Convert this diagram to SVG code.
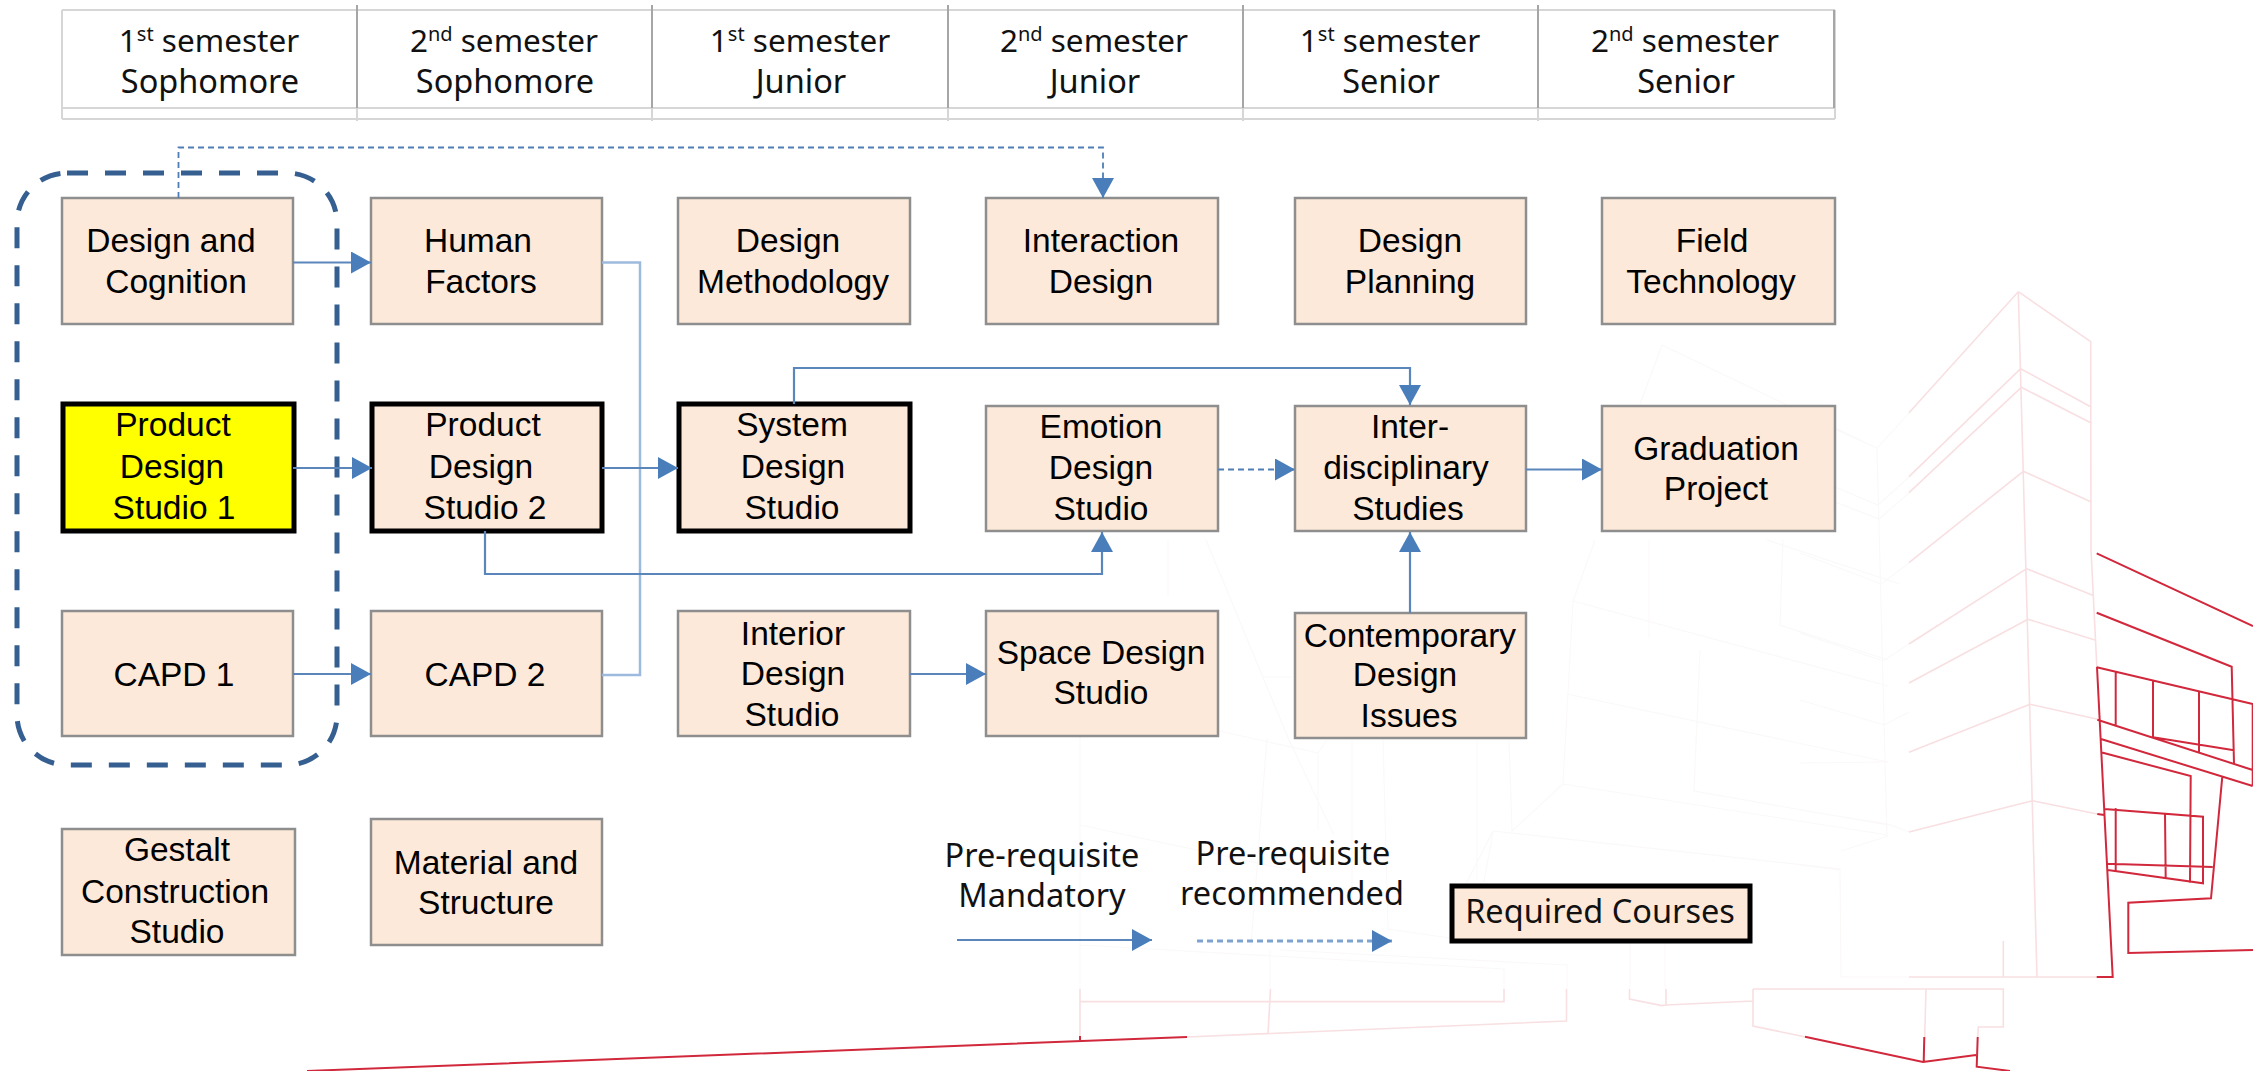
<svg xmlns="http://www.w3.org/2000/svg" width="2253" height="1071" viewBox="0 0 2253 1071">
<style>
.p{fill:none;stroke:#f8dfe2;stroke-width:1.6}
.f{fill:none;stroke:#fbf8f8;stroke-width:1.1}
.r{fill:none;stroke:#d1283c;stroke-width:2}
.h{stroke:#d6d6d6;stroke-width:2;fill:none}
.hv{stroke:#a6a6a6;stroke-width:2;fill:none}
.b{fill:#fde9d9;stroke:#8e8e8e;stroke-width:2.5}
.k{fill:#fde9d9;stroke:#000;stroke-width:5}
.y{fill:#ffff00;stroke:#000;stroke-width:5}
text{font-family:"Liberation Sans",Arial,sans-serif;font-size:33.5px;text-anchor:middle;fill:#000}
.m{font-family:"Noto Sans","Open Sans",sans-serif;font-size:32.5px;fill:#111}
.s{font-size:31.5px}
.c{fill:none;stroke:#5a86bb;stroke-width:2.2}
.l{fill:none;stroke:#9dbade;stroke-width:2.5}
.d{fill:none;stroke:#4f7eb6;stroke-width:1.8;stroke-dasharray:6 4}
.g{fill:none;stroke:#7fa3d0;stroke-width:3;stroke-dasharray:6 4}
</style>
<defs>
<marker id="a" markerUnits="userSpaceOnUse" markerWidth="21" markerHeight="22" refX="20" refY="11" orient="auto"><path d="M0 0L20 11L0 22Z" fill="#4a7ebb"/></marker>
</defs>
<g id="building">
<path class="f" d="M1662 345L1877 448L1887 837M1662 345L1640 404M1837 430L1877 448L1909 413M1835 487L1878 505L1909 477M1835 502L1879 519L1909 493M1800 553L1881 584L1909 563M1800 633L1883 661L1909 644M1800 700L1884 725L1909 712M1800 763L1887 762M1800 810L1888 824L1909 832M1800 865L1840 870L1841 977M1493 831L1841 869M1841 851L1888 836M1493 831L1484 882M1493 831L1465 886M1563 784L1573 601L1595 540M1563 784L1512 831L1509 740M1563 784L1888 835M1573 601L1888 686M1567 694L1888 762M1700 650L1694 791L1888 825M1649 540L1649 638M1783 540L1780 625L1888 660M1767 540L1900 584M1168 540L1168 597M1206 540L1289 740L1334 835M1264 677L1292 677M1219 731L1318 753L1327 740M1318 753L1318 830M1267 738L1251 946M1352 740L1352 900M1383 740L1388 929L1450 938M1477 740L1477 880M1080 736L1080 989M1080 825L1290 870M1080 945L1504 969L1504 989M1270 950L1270 989M1280 950L1567 965L1567 989M1630 943L1630 989M1665 943L1665 989M1841 977L1909 977M1800 989L1900 989"/>
<path class="p" d="M2018.300 291.700L1909 412.700M2018.300 291.700L2090.700 341.700L2091 550L2097 670M2018.300 291.700L2037 976.700M2020.700 368.700L1909 476.700M2020.700 368.700L2090.700 406.700M2021.300 387.300L1909 492.700M2021.300 387.300L2090.700 422.700M2023.300 471.300L1909 562.700M2023.300 471.300L2090.700 501.700M2026.700 568.700L1909 644M2026.700 568.700L2092.700 595.300M2028 619.300L1909 683M2028 619.300L2095 640M2030 704.300L1909 752.300M2030 704.300L2097.700 719.300M2032.300 800.700L1909 832M2032.300 800.700L2097.300 814M1909 977L2097 977M2003.300 941L2003.300 977M1753 989L2003.300 989L2003.300 1027L1978.300 1027L1977.700 1037M1926 989L1924.700 1037M1080 989L1080 1039.500M1080 1001.600L1504 1001.600L1504 989M1270.500 989L1268 1034M1566.500 989L1566.500 1021L1187 1037M1629.500 989L1629.500 999L1662 1005.600L1666 1005L1666 989M1666 1005L1753 1001M1753 989L1753 1026L1805.600 1037"/>
<path class="r" d="M2096.700 553.300L2253 626M2096.700 612.700L2231.700 666.700L2234 764M2096.700 667.300L2252.700 704L2252.700 786M2097 667L2112.700 977L2096.700 977M2097.300 719.700L2252.700 770M2101 739L2252.700 786M2101 752.300L2190.700 776L2190 882.700M2115.700 671.700L2115.700 725M2153 680.700L2153 737.300M2199 691.700L2199 752.300M2153 737.300L2234 750.300M2104.300 809L2203 816.700L2203 883.300L2107.700 870M2107.300 863.700L2212.700 867M2115.700 808.300L2115.700 870.700M2165 814L2165.700 878.300M2222.300 776.700L2211 898.300L2128.300 902.700L2128.300 953L2253 950M2097.300 814L2104.300 815M1187 1037L307 1071M1080 1036L1080 1040M1805 1036.700L1923 1062L1976 1055M1924.300 1037L1923.700 1062M1977.700 1037L1976.700 1066.700L2010 1071"/>
</g>
<g id="header">
<path class="h" d="M62 10H1835M62 108H1835M62 119H1835M62 10V119M1835 10V119"/>
<path class="hv" d="M357 5V108M652 5V108M948 5V108M1243 5V108M1538 5V108M1834 10V108"/>
<path class="h" d="M357 108V121M652 108V121M948 108V121M1243 108V121M1538 108V121"/>
<text class="m s" x="209" y="52">1<tspan font-size="20" dy="-11">st</tspan><tspan dy="11"> semester</tspan></text><text class="m" x="210" y="93">Sophomore</text>
<text class="m s" x="504" y="52">2<tspan font-size="20" dy="-11">nd</tspan><tspan dy="11"> semester</tspan></text><text class="m" x="505" y="93">Sophomore</text>
<text class="m s" x="800" y="52">1<tspan font-size="20" dy="-11">st</tspan><tspan dy="11"> semester</tspan></text><text class="m" x="801" y="93">Junior</text>
<text class="m s" x="1094" y="52">2<tspan font-size="20" dy="-11">nd</tspan><tspan dy="11"> semester</tspan></text><text class="m" x="1095" y="93">Junior</text>
<text class="m s" x="1390" y="52">1<tspan font-size="20" dy="-11">st</tspan><tspan dy="11"> semester</tspan></text><text class="m" x="1391" y="93">Senior</text>
<text class="m s" x="1685" y="52">2<tspan font-size="20" dy="-11">nd</tspan><tspan dy="11"> semester</tspan></text><text class="m" x="1686" y="93">Senior</text>
</g>
<g id="n-design-cognition"><rect class="b" x="62" y="198" width="231" height="126"/><text x="171" y="252">Design and</text><text x="176" y="293">Cognition</text></g>
<g id="n-human-factors"><rect class="b" x="371" y="198" width="231" height="126"/><text x="478" y="252">Human</text><text x="481" y="293">Factors</text></g>
<g id="n-design-methodology"><rect class="b" x="678" y="198" width="232" height="126"/><text x="788" y="252">Design</text><text x="793" y="293">Methodology</text></g>
<g id="n-interaction-design"><rect class="b" x="986" y="198" width="232" height="126"/><text x="1101" y="252">Interaction</text><text x="1101" y="293">Design</text></g>
<g id="n-design-planning"><rect class="b" x="1295" y="198" width="231" height="126"/><text x="1410" y="252">Design</text><text x="1410" y="293">Planning</text></g>
<g id="n-field-technology"><rect class="b" x="1602" y="198" width="233" height="126"/><text x="1712" y="252">Field</text><text x="1711" y="293">Technology</text></g>
<g id="n-pds1"><rect class="y" x="63" y="404" width="231" height="127"/><text x="173" y="436">Product</text><text x="172" y="478">Design</text><text x="174" y="519">Studio 1</text></g>
<g id="n-pds2"><rect class="k" x="372" y="404" width="230" height="127"/><text x="483" y="436">Product</text><text x="481" y="478">Design</text><text x="485" y="519">Studio 2</text></g>
<g id="n-system-design"><rect class="k" x="679" y="404" width="231" height="127"/><text x="792" y="436">System</text><text x="793" y="478">Design</text><text x="792" y="519">Studio</text></g>
<g id="n-emotion-design"><rect class="b" x="986" y="406" width="232" height="125"/><text x="1101" y="438">Emotion</text><text x="1101" y="479">Design</text><text x="1101" y="520">Studio</text></g>
<g id="n-interdisciplinary"><rect class="b" x="1295" y="406" width="231" height="125"/><text x="1410" y="438">Inter-</text><text x="1406" y="479">disciplinary</text><text x="1408" y="520">Studies</text></g>
<g id="n-graduation"><rect class="b" x="1602" y="406" width="233" height="125"/><text x="1716" y="460">Graduation</text><text x="1716" y="500">Project</text></g>
<g id="n-capd1"><rect class="b" x="62" y="611" width="231" height="125"/><text x="174" y="686">CAPD 1</text></g>
<g id="n-capd2"><rect class="b" x="371" y="611" width="231" height="125"/><text x="485" y="686">CAPD 2</text></g>
<g id="n-interior-design"><rect class="b" x="678" y="611" width="232" height="125"/><text x="793" y="645">Interior</text><text x="793" y="685">Design</text><text x="792" y="726">Studio</text></g>
<g id="n-space-design"><rect class="b" x="986" y="611" width="232" height="125"/><text x="1101" y="664">Space Design</text><text x="1101" y="704">Studio</text></g>
<g id="n-contemporary"><rect class="b" x="1295" y="613" width="231" height="125"/><text x="1410" y="647">Contemporary</text><text x="1405" y="686">Design</text><text x="1409" y="727">Issues</text></g>
<g id="n-gestalt"><rect class="b" x="62" y="829" width="233" height="126"/><text x="177" y="861">Gestalt</text><text x="175" y="903">Construction</text><text x="177" y="943">Studio</text></g>
<g id="n-material"><rect class="b" x="371" y="819" width="231" height="126"/><text x="486" y="874">Material and</text><text x="486" y="914">Structure</text></g>
<g id="connectors">
<rect x="17" y="173" width="320" height="592" rx="50" fill="none" stroke="#365f91" stroke-width="5" stroke-dasharray="21 17"/>
<path class="d" d="M178.500 198V147.500H1103V198" marker-end="url(#a)"/>
<path class="c" d="M293 262.500H371" marker-end="url(#a)"/>
<path class="l" d="M602 262.500H640V675H602"/>
<path class="c" d="M293 468H372" marker-end="url(#a)"/>
<path class="c" d="M602 468H678" marker-end="url(#a)"/>
<path class="c" d="M794 404V368H1410V405" marker-end="url(#a)"/>
<path class="c" d="M485 531V574H1102V532" marker-end="url(#a)"/>
<path class="d" d="M1218 469.500H1295" marker-end="url(#a)"/>
<path class="c" d="M1526 469.500H1602" marker-end="url(#a)"/>
<path class="c" d="M293 674H371" marker-end="url(#a)"/>
<path class="c" d="M910 674H986" marker-end="url(#a)"/>
<path class="c" d="M1410 613V532" marker-end="url(#a)"/>
</g>
<g id="legend">
<text class="m" x="1042" y="867">Pre-requisite</text><text class="m" x="1042" y="907">Mandatory</text>
<text class="m" x="1293" y="865">Pre-requisite</text><text class="m" x="1292" y="905">recommended</text>
<path class="c" d="M957 940H1152" marker-end="url(#a)"/>
<path class="g" d="M1197 941H1392" marker-end="url(#a)"/>
<rect class="k" x="1452" y="886" width="298" height="55"/><text class="m" x="1600" y="923">Required Courses</text>
</g>
</svg>
